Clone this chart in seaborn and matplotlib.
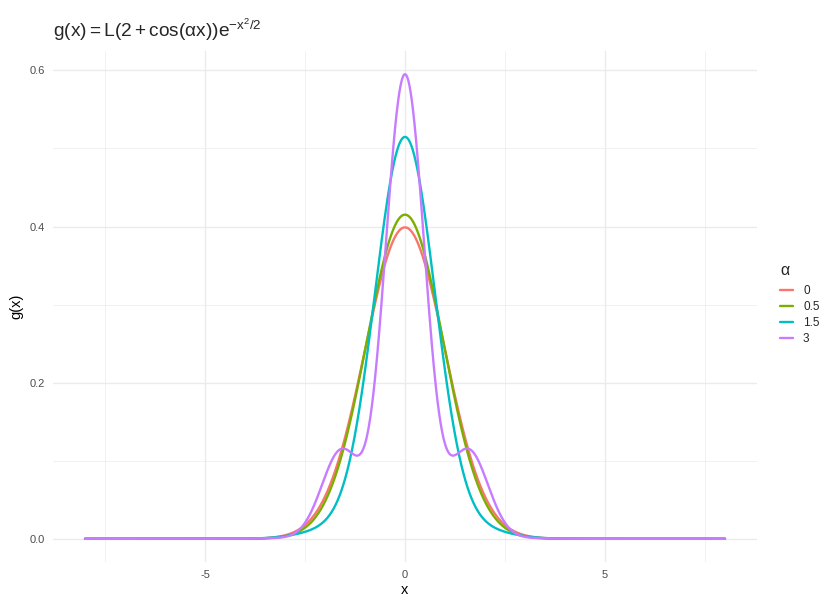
import numpy as np
import pandas as pd
import matplotlib
matplotlib.use("Agg")
import matplotlib.pyplot as plt
import seaborn as sns
from matplotlib.lines import Line2D

# Parameter values for the family g(x) = L(2 + cos(alpha x)) exp(-x^2/2)
alphas = [0, 0.5, 1.5, 3]
alpha_labels = ["0", "0.5", "1.5", "3"]
x_min, x_max = -8, 8
palette = ["#F8766D", "#7CAE00", "#00BFC4", "#C77CFF"]
x_ticks = [-5, 0, 5]
y_ticks = [0.0, 0.2, 0.4, 0.6]
y_tick_labels = ["0.0", "0.2", "0.4", "0.6"]

x = np.linspace(x_min, x_max, 1601)
frames = []
for a, lab in zip(alphas, alpha_labels):
    # L normalises the density so it integrates to one
    L = 1.0 / (np.sqrt(2 * np.pi) * (2 + np.exp(-a ** 2 / 2)))
    g = L * (2 + np.cos(a * x)) * np.exp(-x ** 2 / 2)
    frames.append(pd.DataFrame({"x": x, "g": g, "alpha": lab}))
df = pd.concat(frames, ignore_index=True)

sns.set_theme(style="whitegrid")
plt.rcParams["font.family"] = ["Liberation Sans", "DejaVu Sans"]
plt.rcParams["mathtext.fontset"] = "custom"
plt.rcParams["mathtext.rm"] = "Liberation Sans"
plt.rcParams["mathtext.it"] = "Liberation Sans"
plt.rcParams["mathtext.bf"] = "Liberation Sans:bold"

W, H = 823, 601
fig = plt.figure(figsize=(W / 100, H / 100), dpi=100)
ax = fig.add_axes([53 / W, 1 - 562 / H, (757 - 53) / W, (562 - 51) / H])

sns.lineplot(data=df, x="x", y="g", hue="alpha", hue_order=alpha_labels,
             palette=palette, linewidth=1.7, ax=ax, legend=False)

xr = x_max - x_min
ax.set_xlim(x_min - 0.05 * xr, x_max + 0.05 * xr)
ymax = df["g"].max()
ax.set_ylim(-0.05 * ymax, ymax * 1.05)

ax.set_xticks(x_ticks)
ax.set_xticklabels([str(t) for t in x_ticks])
ax.set_xticks([-7.5, -2.5, 2.5, 7.5], minor=True)
ax.set_yticks(y_ticks)
ax.set_yticklabels(y_tick_labels)
ax.set_yticks([0.1, 0.3, 0.5], minor=True)

ax.set_facecolor("white")
for s in ax.spines.values():
    s.set_visible(False)
ax.grid(which="major", color="#EBEBEB", linewidth=1.0)
ax.grid(which="minor", color="#EBEBEB", linewidth=0.5)
ax.tick_params(which="both", length=0, labelsize=8, labelcolor="#4D4D4D", pad=6)
ax.set_axisbelow(True)

ax.set_xlabel("x", fontsize=10.5, color="black", labelpad=2)
ax.set_ylabel("g(x)", fontsize=10.5, color="black", labelpad=4)

fig.text(53 / W, 1 - 30 / H, r"$\mathrm{g(x) = L(2 + cos(\alpha x))e^{-x^2/2}}$",
         fontsize=13.8, ha="left", va="center")

# legend
handles = [Line2D([0], [0], color=c, lw=1.7) for c in palette]
leg = fig.legend(handles, alpha_labels, title="α", loc="upper left",
                 bbox_to_anchor=(780 / W, 1 - 263 / H), frameon=False,
                 fontsize=8.5, title_fontsize=11.5, handlelength=1.1,
                 handletextpad=0.85, labelspacing=0.33, borderaxespad=0,
                 borderpad=0)
leg._legend_box.align = "left"
leg._legend_box.sep = 5

fig.savefig("out.png", dpi=100)
